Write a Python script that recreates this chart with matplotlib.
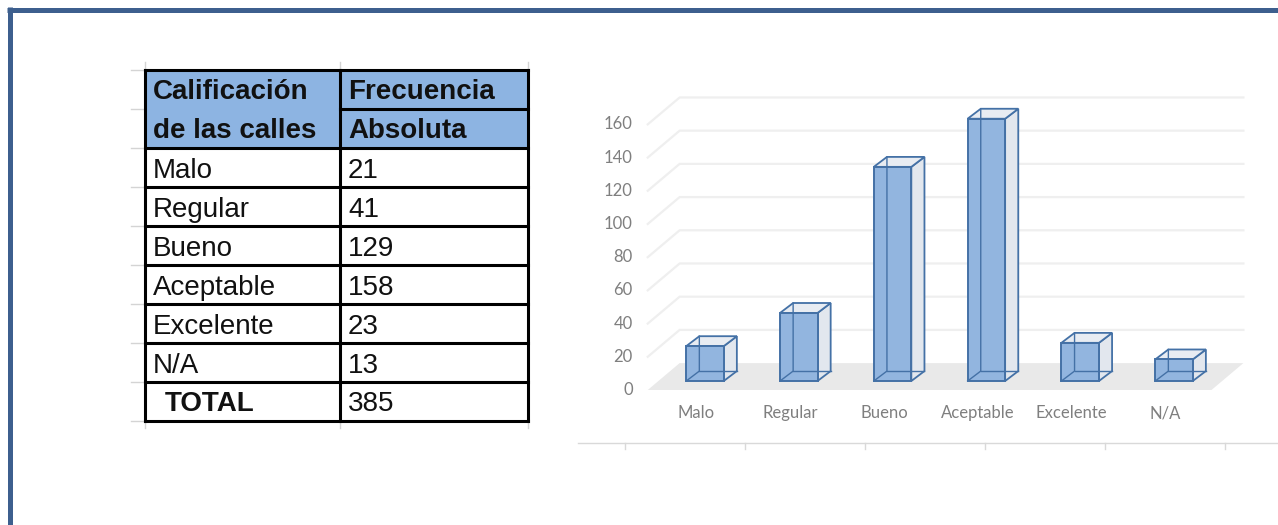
import numpy as np
import matplotlib.pyplot as plt
from matplotlib.patches import Rectangle, Polygon

# datos
categorias = ["Malo", "Regular", "Bueno", "Aceptable", "Excelente", "N/A"]
frecuencias = [21, 41, 129, 158, 23, 13]
encabezado_izq = ["Calificación", "de las calles"]
encabezado_der = ["Frecuencia", "Absoluta"]
etiqueta_total = "TOTAL"
valores_eje = [0, 20, 40, 60, 80, 100, 120, 140, 160]

W, H = 1278, 525
fig = plt.figure(figsize=(W / 100, H / 100), dpi=100)
fig.patch.set_facecolor("white")

# fondo: marco azul y restos de ejes
bg = fig.add_axes([0, 0, 1, 1], zorder=-5)
bg.set_xlim(0, W)
bg.set_ylim(H, 0)
bg.axis("off")
azul_marco = "#3d5f8e"
bg.plot([7, W], [9.5, 9.5], color=azul_marco, lw=3.6, solid_capstyle="butt")
bg.plot([9.5, 9.5], [7, H], color=azul_marco, lw=3.6, solid_capstyle="butt")
bg.plot([578, W], [443, 443], color="#d9d9d9", lw=1)
for k in range(6):
    xt = 625 + 120 * k
    bg.plot([xt, xt], [443, 449], color="#d9d9d9", lw=1)

# ---------------- tabla ----------------
col_w = [195, 188]
n_filas = 2 + len(categorias) + 1
tab = fig.add_axes([145 / W, 1 - 421 / H, 383 / W, 351 / H])
tab.set_xlim(0, sum(col_w))
tab.set_ylim(n_filas, 0)
tab.axis("off")

fuente = ["Liberation Sans", "DejaVu Sans"]
fs = 20
azul_enc = "#8db4e2"
tab.add_patch(Rectangle((0, 0), sum(col_w), 2, facecolor=azul_enc, edgecolor="none"))

# restos de la cuadricula de la hoja de calculo
gris_hoja = "#d4d4d4"
for r in range(n_filas + 1):
    tab.plot([-14, 0], [r, r], color=gris_hoja, lw=1, clip_on=False)
for xc in [0, col_w[0], sum(col_w)]:
    tab.plot([xc, xc], [n_filas, n_filas + 0.18], color=gris_hoja, lw=1, clip_on=False)
    tab.plot([xc, xc], [-0.2, 0], color=gris_hoja, lw=1, clip_on=False)

lw_t = 2.2
x_mid = col_w[0]
x_end = sum(col_w)
tab.plot([0, x_end], [0, 0], color="black", lw=lw_t, clip_on=False)
tab.plot([x_mid, x_end], [1, 1], color="black", lw=lw_t, clip_on=False)
for r in range(2, n_filas + 1):
    tab.plot([0, x_end], [r, r], color="black", lw=lw_t, clip_on=False)
for xc in [0, x_mid, x_end]:
    tab.plot([xc, xc], [0, n_filas], color="black", lw=lw_t, clip_on=False)

for i in range(2):
    tab.text(8, i + 0.57, encabezado_izq[i], fontsize=fs, fontweight="bold",
             family=fuente, va="center", ha="left", color="#111111")
    tab.text(x_mid + 8, i + 0.57, encabezado_der[i], fontsize=fs, fontweight="bold",
             family=fuente, va="center", ha="left", color="#111111")

for i, (c, v) in enumerate(zip(categorias, frecuencias)):
    r = 2 + i + 0.6
    tab.text(8, r, c, fontsize=fs, family=fuente, va="center", ha="left", color="#111111")
    tab.text(x_mid + 8, r, str(v), fontsize=fs, family=fuente, va="center", ha="left",
             color="#111111")
r = n_filas - 1 + 0.57
tab.text(20, r, etiqueta_total, fontsize=fs, fontweight="bold", family=fuente,
         va="center", ha="left", color="#111111")
tab.text(x_mid + 8, r, str(sum(frecuencias)), fontsize=fs, family=fuente,
         va="center", ha="left", color="#111111")

# ---------------- grafico 3D simulado ----------------
ax = fig.add_axes([600 / W, 1 - 430 / H, 660 / W, 340 / H])
ax.set_xlim(-1.119, 5.917)
ax.set_ylim(-29.5, 175.3)
ax.axis("off")

piso_frente = -5.4
prof_dx, prof_dy = 0.34, 16.2
x_izq, x_der = -0.61, 5.40

# piso
ax.add_patch(Polygon([(x_izq, piso_frente), (x_der, piso_frente),
                      (x_der + prof_dx, piso_frente + prof_dy),
                      (x_izq + prof_dx, piso_frente + prof_dy)],
                     closed=True, facecolor="#e9e9e9", edgecolor="none", zorder=2))

# lineas de cuadricula
for g in valores_eje[1:]:
    y0 = piso_frente + g
    ax.plot([x_izq, x_izq + prof_dx, x_der + prof_dx], [y0, y0 + prof_dy, y0 + prof_dy],
            color="#efefef", lw=1.6, zorder=1, solid_joinstyle="miter")

fuente_graf = ["Lato", "DejaVu Sans"]
for g in valores_eje:
    ax.text(x_izq - 0.16, piso_frente + g, str(g), ha="right", va="center",
            fontsize=12, color="#7f7f7f", family=fuente_graf)

# barras
ancho = 0.4
bdx, bdy = 0.14, 6.0
azul_frente = "#92b5df"
borde = "#4471a6"
for i, v in enumerate(frecuencias):
    x0, x1 = i - ancho / 2, i + ancho / 2
    # lado derecho
    ax.add_patch(Polygon([(x1, 0), (x1 + bdx, bdy), (x1 + bdx, v + bdy), (x1, v)],
                         closed=True, facecolor="#e2e7ee", edgecolor=borde, lw=1.3, zorder=3))
    # tapa
    ax.add_patch(Polygon([(x0, v), (x0 + bdx, v + bdy), (x1 + bdx, v + bdy), (x1, v)],
                         closed=True, facecolor="#e8ecf2", edgecolor=borde, lw=1.3, zorder=3))
    # frente
    ax.add_patch(Rectangle((x0, 0), ancho, v, facecolor=azul_frente, edgecolor=borde,
                           lw=1.4, zorder=4))
    # aristas ocultas vistas a traves
    ax.plot([x0, x0 + bdx, x0 + bdx], [0, bdy, v + bdy], color=borde, lw=1.0, zorder=5)
    ax.plot([x0 + bdx, x1 + bdx], [bdy, bdy], color=borde, lw=1.0, zorder=5)

for i, c in enumerate(categorias):
    ax.text(i - 0.09, -19.3, c, ha="center", va="center", fontsize=12,
            color="#7f7f7f", family=fuente_graf)

fig.savefig("out.png", dpi=100, facecolor="white")
